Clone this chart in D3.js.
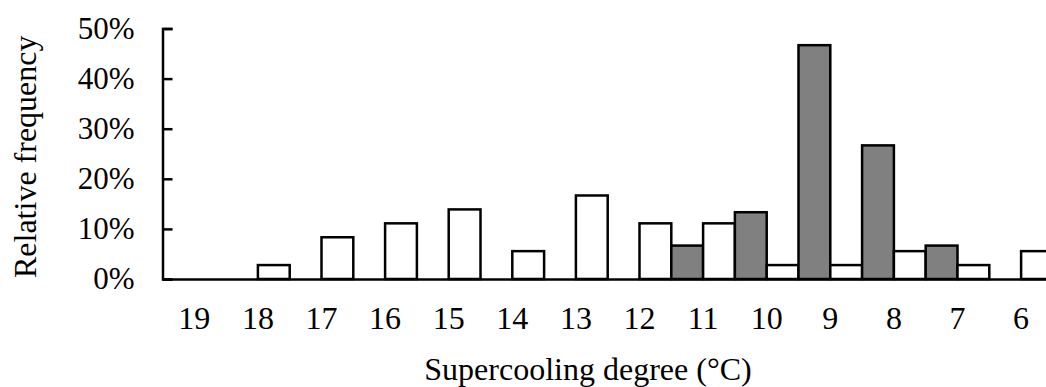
<!DOCTYPE html>
<html>
<head>
<meta charset="utf-8">
<script src="https://cdn.jsdelivr.net/npm/d3@7"></script>
<style>
  body { margin: 0; background: #fff; }
  svg text { font-family: "Liberation Serif", "Times New Roman", serif; fill: #000; }
</style>
</head>
<body>
<div id="container"></div>
<script>
// supercooling degree categories (°C)
const degrees = ["19", "18", "17", "16", "15", "14", "13", "12", "11", "10", "9", "8", "7", "6"];
// relative frequency (%) per series
const whiteValues = [0, 2.78, 8.33, 11.11, 13.89, 5.56, 16.67, 11.11, 11.11, 2.78, 2.78, 5.56, 2.78, 5.56];
const grayValues = [0, 0, 0, 0, 0, 0, 0, 0, 6.67, 13.33, 46.67, 26.67, 6.67, 0];
const yTicks = [0, 10, 20, 30, 40, 50];

const WIDTH = 1046;
const HEIGHT = 387;
const LEFT = 162.5;
const BAND = 63.6;
const TOP = 28.5;
const BOTTOM = 279;

const svg = d3.select("#container")
    .append("svg")
    .attr("width", WIDTH)
    .attr("height", HEIGHT);

const xScale = d3.scaleBand()
    .domain(degrees)
    .range([LEFT, LEFT + BAND * degrees.length])
    .padding(0);

const seriesScale = d3.scaleBand()
    .domain(["gray", "white"])
    .range([0, xScale.bandwidth()])
    .padding(0);

const yScale = d3.scaleLinear()
    .domain([0, 50])
    .range([BOTTOM, TOP]);

const rows = degrees.map((d, i) => ({ degree: d, gray: grayValues[i], white: whiteValues[i] }));

// bars
const groups = svg.selectAll("g.group")
    .data(rows)
    .enter()
    .append("g")
    .attr("class", "group")
    .attr("transform", (d) => "translate(" + xScale(d.degree) + ",0)");

groups.selectAll("rect")
    .data((d) => ["gray", "white"].map((k) => ({ key: k, value: d[k] })).filter((v) => v.value > 0))
    .enter()
    .append("rect")
    .attr("x", (d) => seriesScale(d.key))
    .attr("y", (d) => yScale(d.value))
    .attr("width", seriesScale.bandwidth())
    .attr("height", (d) => BOTTOM - yScale(d.value))
    .attr("fill", (d) => d.key === "gray" ? "#808080" : "#fff")
    .attr("stroke", "#000")
    .attr("stroke-width", 2.5);

// y axis
const leftAxis = d3.axisLeft(yScale)
    .tickValues(yTicks)
    .tickSize(-10)
    .tickPadding(28)
    .tickFormat((d) => d + "%");

const yAxisG = svg.append("g")
    .attr("transform", "translate(" + LEFT + ",0)")
    .call(leftAxis);
yAxisG.select(".domain").attr("stroke-width", 2.5);
yAxisG.selectAll(".tick line").attr("stroke-width", 2.5);
yAxisG.selectAll("text")
    .style("font-size", "31px")
    .attr("font-family", null);

// x axis
const bottomAxis = d3.axisBottom(xScale)
    .tickSize(0)
    .tickSizeOuter(0)
    .tickPadding(27);

const xAxisG = svg.append("g")
    .attr("transform", "translate(0," + BOTTOM + ")")
    .call(bottomAxis);
xAxisG.select(".domain").attr("stroke-width", 2.5);
xAxisG.selectAll("text")
    .style("font-size", "32px")
    .attr("font-family", null);

// axis titles
svg.append("text")
    .attr("transform", "translate(36," + ((TOP + BOTTOM) / 2 + 3) + ") rotate(-90)")
    .attr("text-anchor", "middle")
    .style("font-size", "32px")
    .text("Relative frequency");

svg.append("text")
    .attr("x", 588)
    .attr("y", 380)
    .attr("text-anchor", "middle")
    .style("font-size", "32px")
    .text("Supercooling degree (°C)");
</script>
</body>
</html>
